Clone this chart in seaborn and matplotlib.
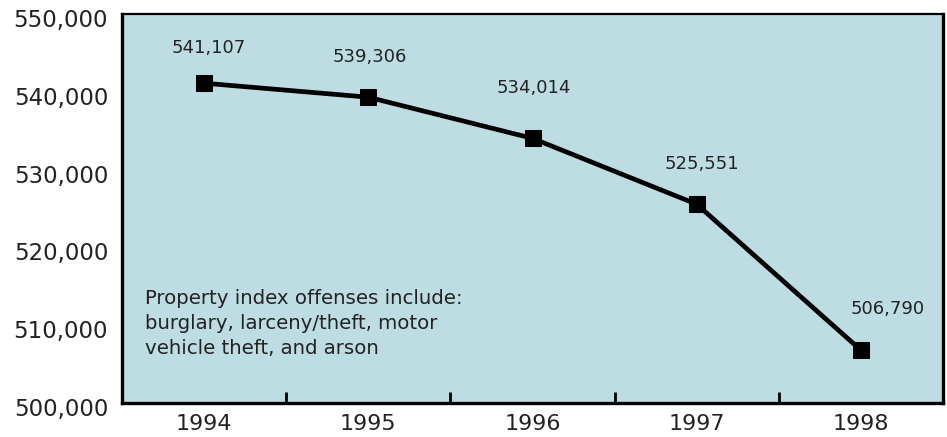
import numpy as np
import pandas as pd
import seaborn as sns
import matplotlib.pyplot as plt
import matplotlib.transforms as mtransforms
from matplotlib.ticker import FuncFormatter

years = ['1994', '1995', '1996', '1997', '1998']
offenses = [541107, 539306, 534014, 525551, 506790]
note = 'Property index offenses include:\nburglary, larceny/theft, motor\nvehicle theft, and arson'

# label nudges (points) so the value labels sit like the original
label_dx = [3, 1, 1, 4, 19]
label_dy = [22, 25, 33, 25, 26]

df = pd.DataFrame({'pos': np.arange(len(years)), 'offenses': offenses})

sns.set_style('white')
plt.rcParams['font.family'] = ['DejaVu Sans']
txt = '#222222'

fig = plt.figure(figsize=(9.47, 4.37), dpi=100)
ax = fig.add_axes([122 / 947, 34 / 437, 821 / 947, 389 / 437])
ax.set_facecolor('#bddde3')

sns.lineplot(data=df, x='pos', y='offenses', ax=ax, color='black', linewidth=3.4,
             marker='s', markersize=12, markeredgecolor='black', markerfacecolor='black')

for i, v in enumerate(offenses):
    ax.annotate(f'{v:,}', (i, v), xytext=(label_dx[i], label_dy[i]), textcoords='offset points',
                ha='center', va='baseline', fontsize=13, color=txt)

ax.text(0.028, 0.293, note, transform=ax.transAxes, ha='left', va='top',
        fontsize=14.2, color=txt, linespacing=1.4)

ax.set_xlim(-0.5, len(years) - 0.5)
ax.set_ylim(500000, 550000)
ax.set_yticks(np.arange(500000, 550001, 10000))
ax.yaxis.set_major_formatter(FuncFormatter(lambda v, p: f'{int(v):,}'))
ax.tick_params(axis='y', length=0, pad=10, labelsize=16.5, labelcolor=txt)
shift = mtransforms.ScaledTranslation(0, -4 / 100, fig.dpi_scale_trans)
for lab in ax.get_yticklabels():
    lab.set_transform(lab.get_transform() + shift)

ax.set_xticks(range(len(years)))
ax.set_xticklabels(years)
ax.tick_params(axis='x', which='major', length=0, pad=8, labelsize=16, labelcolor=txt)
ax.set_xticks(np.arange(0.5, len(years) - 0.5, 1), minor=True)
ax.tick_params(axis='x', which='minor', direction='in', length=8, width=2, color='black', bottom=True)

ax.set_xlabel('')
ax.set_ylabel('')
for name, s in ax.spines.items():
    s.set_visible(True)
    s.set_color('black')
    s.set_linewidth(1.6 if name == 'top' else 2.4)

fig.savefig('out.png', dpi=100)
